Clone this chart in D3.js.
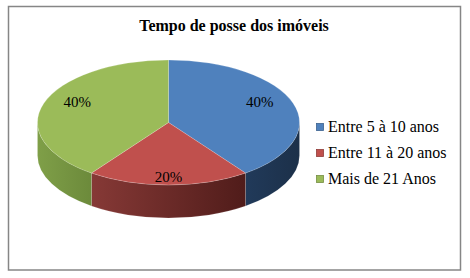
<!DOCTYPE html>
<html>
<head>
<meta charset="utf-8">
<script src="https://cdn.jsdelivr.net/npm/d3@7"></script>
<style>
  body { margin: 0; background: #fff; }
  svg { display: block; }
  text { font-family: "Liberation Serif", "Times New Roman", "DejaVu Serif", serif; }
</style>
</head>
<body>
<svg id="chart"></svg>
<script>
const categories = ["Entre 5 à 10 anos", "Entre 11 à 20 anos", "Mais de 21 Anos"];
const values = [40, 20, 40];
const topColors = ["#4F81BD", "#C0504D", "#9BBB59"];
const sideColors = [["#213a5a", "#1c3049"], ["#863936", "#501c1a"], ["#7f9f48", "#6c8a3b"]];

const width = 470;
const height = 278;

const svg = d3.select("#chart")
  .attr("width", width)
  .attr("height", height);

svg.append("rect")
  .attr("x", 8.5).attr("y", 6.5)
  .attr("width", 452).attr("height", 263.5)
  .attr("fill", "#fff")
  .attr("stroke", "#868686")
  .attr("stroke-width", 1.5);

svg.append("text")
  .attr("x", 234)
  .attr("y", 31)
  .attr("text-anchor", "middle")
  .attr("font-weight", "bold")
  .attr("font-size", 16)
  .text("Tempo de posse dos imóveis");

// pie geometry (tilted ellipse)
const cx = 168.5, cy = 122.5;
const rx = 131, ry = 62.5, depth = 33;
const k = ry / rx;

const pie = d3.pie().sort(null).value(d => d)(values);

const defs = svg.append("defs");
sideColors.forEach((c, i) => {
  const g = defs.append("linearGradient").attr("id", "side" + i)
    .attr("x1", 0).attr("x2", 1).attr("y1", 0).attr("y2", 0);
  g.append("stop").attr("offset", 0).attr("stop-color", c[0]);
  g.append("stop").attr("offset", 1).attr("stop-color", c[1]);
});

const pt = a => [cx + rx * Math.sin(a), cy - ry * Math.cos(a)];

// side walls, front half only
const sides = svg.append("g");
pie.forEach((p, i) => {
  const a0 = Math.max(p.startAngle, Math.PI / 2);
  const a1 = Math.min(p.endAngle, Math.PI * 3 / 2);
  if (a1 <= a0) return;
  const s = pt(a0), e = pt(a1);
  const large = (a1 - a0) > Math.PI ? 1 : 0;
  const d = `M${s[0]},${s[1]}A${rx},${ry} 0 ${large} 1 ${e[0]},${e[1]}` +
    `L${e[0]},${e[1] + depth}A${rx},${ry} 0 ${large} 0 ${s[0]},${s[1] + depth}Z`;
  sides.append("path")
    .attr("d", d)
    .attr("fill", `url(#side${i})`)
    .attr("stroke", "rgba(255,255,255,0.25)")
    .attr("stroke-width", 0.5);
});

// top face: d3.arc squashed vertically
const arc = d3.arc().innerRadius(0).outerRadius(rx);
const topFace = svg.append("g")
  .attr("transform", `translate(${cx},${cy}) scale(1,${k})`);
topFace.selectAll("path")
  .data(pie)
  .enter().append("path")
  .attr("d", arc)
  .attr("fill", (d, i) => topColors[i])
  .attr("stroke", "rgba(255,255,255,0.3)")
  .attr("stroke-width", 0.6)
  .attr("vector-effect", "non-scaling-stroke");

// percentage labels
const labelArc = d3.arc().innerRadius(96).outerRadius(96);
const total = d3.sum(values);
svg.append("g").selectAll("text")
  .data(pie)
  .enter().append("text")
  .attr("x", d => cx + labelArc.centroid(d)[0])
  .attr("y", d => cy - 2.8 + labelArc.centroid(d)[1] * 0.597 + 5)
  .attr("text-anchor", "middle")
  .attr("font-size", 15)
  .text(d => Math.round(d.data / total * 100) + "%");

// legend
const legend = svg.append("g").attr("transform", "translate(316,127)");
const rows = legend.selectAll("g")
  .data(categories)
  .enter().append("g")
  .attr("transform", (d, i) => `translate(0,${i * 26})`);
rows.append("rect")
  .attr("x", 0.5).attr("y", -3.5)
  .attr("width", 7).attr("height", 7)
  .attr("fill", (d, i) => topColors[i])
  .attr("stroke", (d, i) => d3.color(topColors[i]).darker(0.8))
  .attr("stroke-width", 0.8);
rows.append("text")
  .attr("x", 12)
  .attr("y", 5)
  .attr("font-size", 16)
  .text(d => d);
</script>
</body>
</html>
